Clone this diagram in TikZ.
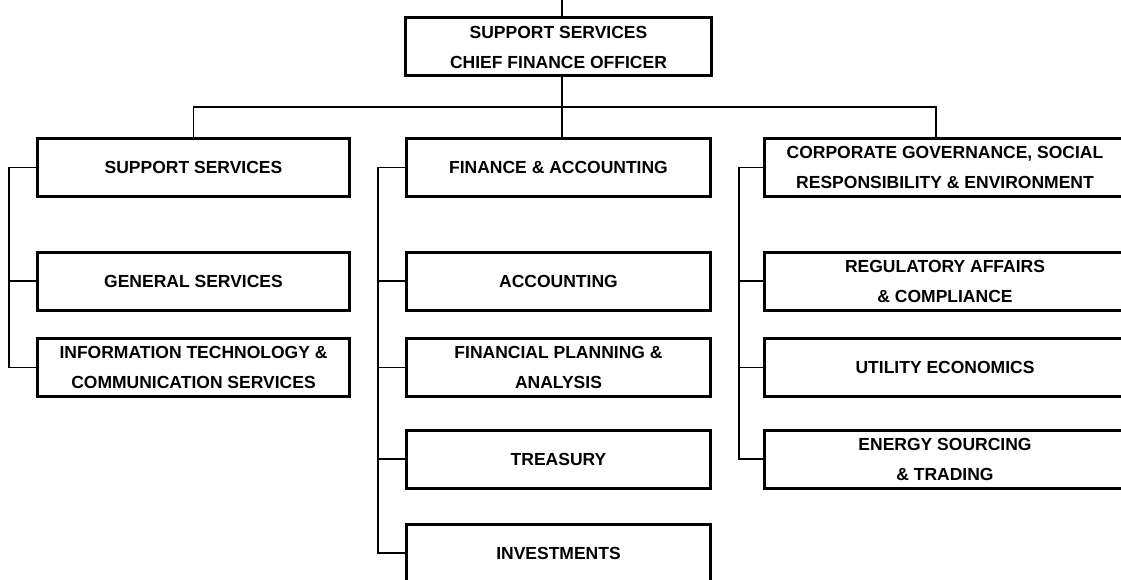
\documentclass[tikz,border=0pt]{standalone}
\usepackage{fontspec}
\setmainfont{Liberation Sans}
\begin{document}
\begin{tikzpicture}[x=1pt,y=-1pt,
	box/.style={draw,line width=3pt,minimum height=58pt,inner sep=0pt,
	align=center,font=\fontsize{17.5}{30}\selectfont\bfseries},
	link/.style={line width=1.3pt}]
\clip (0,0) rectangle (1121,580);
\fill[white] (0,0) rectangle (1121,580);
% head of the branch
\node[box,minimum width=306pt] (cfo) at (558.5,47) {SUPPORT SERVICES\\CHIEF FINANCE OFFICER};
% left column
\node[box,minimum width=312pt] (sup) at (193.5,167.5) {SUPPORT SERVICES};
\node[box,minimum width=312pt] (gen) at (193.5,281) {GENERAL SERVICES};
\node[box,minimum width=312pt] (ict) at (193.5,367.5) {INFORMATION TECHNOLOGY \&\\COMMUNICATION SERVICES};
% middle column
\node[box,minimum width=304pt] (fin) at (558.5,167.5) {FINANCE \& ACCOUNTING};
\node[box,minimum width=304pt] (acc) at (558.5,281) {ACCOUNTING};
\node[box,minimum width=304pt] (fpa) at (558.5,367.5) {FINANCIAL PLANNING \&\\ANALYSIS};
\node[box,minimum width=304pt] (tre) at (558.5,459) {TREASURY};
\node[box,minimum width=304pt] (inv) at (558.5,553) {INVESTMENTS};
% right column
\node[box,minimum width=361pt] (cgov) at (945,167.5) {CORPORATE GOVERNANCE, SOCIAL\\RESPONSIBILITY \& ENVIRONMENT};
\node[box,minimum width=361pt] (reg) at (945,281) {REGULATORY AFFAIRS\\\& COMPLIANCE};
\node[box,minimum width=361pt] (ue) at (945,367.5) {UTILITY ECONOMICS};
\node[box,minimum width=361pt] (ens) at (945,459) {ENERGY SOURCING\\\& TRADING};
% connectors
\coordinate (top) at (562,0);
\coordinate (bus) at (562,107);
\coordinate (rdrop) at (936,107);
\draw[link] (top) -- (top |- cfo.north);
\draw[link] (cfo.south -| top) -- (bus);
\draw[link] (sup.north) |- (rdrop) -- (rdrop |- cgov.north);
\draw[link] (bus) -- (bus |- fin.north);
\draw[link] (sup.west) -- ++(-27,0) coordinate (lsp) |- (ict.west);
\draw[link] (gen.west) -- (gen.west -| lsp);
\draw[link] (fin.west) -- ++(-27,0) coordinate (msp) |- (inv.west);
\foreach \n in {acc,fpa,tre}
	\draw[link] (\n.west) -- (\n.west -| msp);
\draw[link] (cgov.west) -- ++(-24,0) coordinate (rsp) |- (ens.west);
\foreach \n in {reg,ue}
	\draw[link] (\n.west) -- (\n.west -| rsp);
\end{tikzpicture}
\end{document}
